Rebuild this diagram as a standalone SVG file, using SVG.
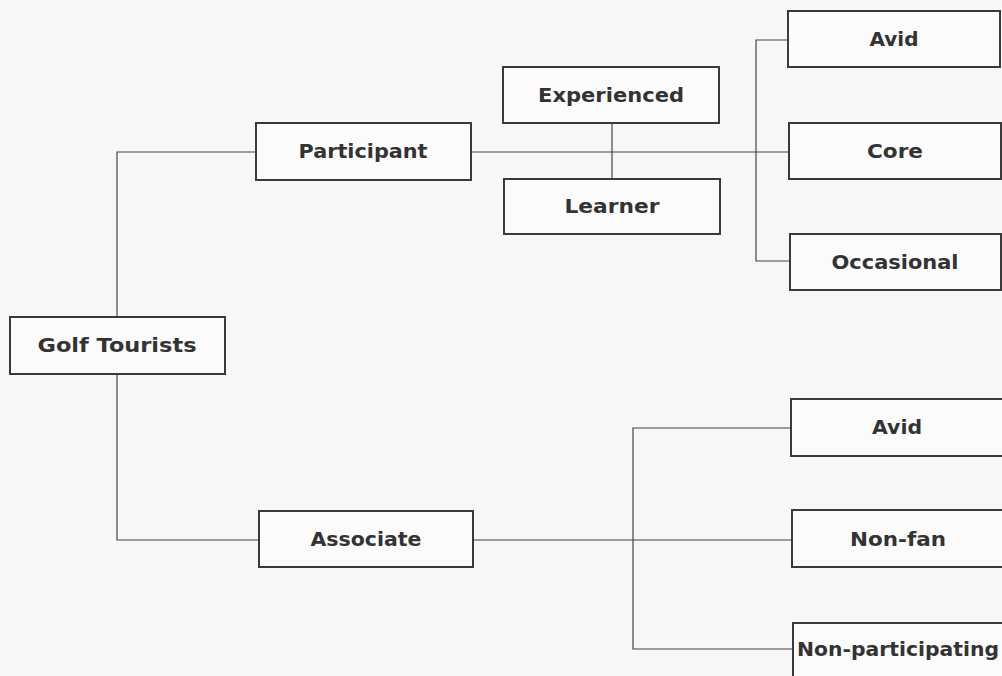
<svg xmlns="http://www.w3.org/2000/svg" width="1002" height="676" viewBox="0 0 1002 676">
<style>
.box{fill:#fbfbfb;stroke:#3a3a3a;stroke-width:2}
.lbl{font-family:"DejaVu Sans",Verdana,sans-serif;font-weight:bold;font-size:19px;fill:#333;text-anchor:middle}
.con{stroke:#444;stroke-width:1.2;fill:none}
</style>
<rect width="1002" height="676" fill="#f7f7f7"/>
<g id="connectors">
<polyline class="con" points="256,152 117,152 117,317"/>
<polyline class="con" points="117,374 117,540 259,540"/>
<line class="con" x1="471" y1="152" x2="789" y2="152"/>
<line class="con" x1="612" y1="123" x2="612" y2="179"/>
<polyline class="con" points="788,40 756,40 756,261 790,261"/>
<line class="con" x1="473" y1="540" x2="792" y2="540"/>
<polyline class="con" points="791,428 633,428 633,649 793,649"/>
</g>
<g id="golf-tourists"><rect class="box" x="10" y="317" width="215" height="57"/><text class="lbl" x="117" y="352" textLength="159" lengthAdjust="spacingAndGlyphs">Golf Tourists</text></g>
<g id="participant"><rect class="box" x="256" y="123" width="215" height="57"/><text class="lbl" x="363" y="158" textLength="129" lengthAdjust="spacingAndGlyphs">Participant</text></g>
<g id="associate"><rect class="box" x="259" y="511" width="214" height="56"/><text class="lbl" x="366" y="546" textLength="111" lengthAdjust="spacingAndGlyphs">Associate</text></g>
<g id="experienced"><rect class="box" x="503" y="67" width="216" height="56"/><text class="lbl" x="611" y="102" textLength="146" lengthAdjust="spacingAndGlyphs">Experienced</text></g>
<g id="learner"><rect class="box" x="504" y="179" width="216" height="55"/><text class="lbl" x="612" y="213" textLength="95" lengthAdjust="spacingAndGlyphs">Learner</text></g>
<g id="avid-participant"><rect class="box" x="788" y="11" width="212" height="56"/><text class="lbl" x="894" y="46" textLength="49" lengthAdjust="spacingAndGlyphs">Avid</text></g>
<g id="core"><rect class="box" x="789" y="123" width="212" height="56"/><text class="lbl" x="895" y="158" textLength="56" lengthAdjust="spacingAndGlyphs">Core</text></g>
<g id="occasional"><rect class="box" x="790" y="234" width="211" height="56"/><text class="lbl" x="895" y="269" textLength="127" lengthAdjust="spacingAndGlyphs">Occasional</text></g>
<g id="avid-associate"><rect class="box" x="791" y="399" width="212" height="57"/><text class="lbl" x="897" y="434" textLength="50" lengthAdjust="spacingAndGlyphs">Avid</text></g>
<g id="non-fan"><rect class="box" x="792" y="510" width="212" height="57"/><text class="lbl" x="898" y="546" textLength="96" lengthAdjust="spacingAndGlyphs">Non-fan</text></g>
<g id="non-participating"><rect class="box" x="793" y="623" width="212" height="60"/><text class="lbl" x="898" y="656" textLength="202" lengthAdjust="spacingAndGlyphs">Non-participating</text></g>
</svg>
